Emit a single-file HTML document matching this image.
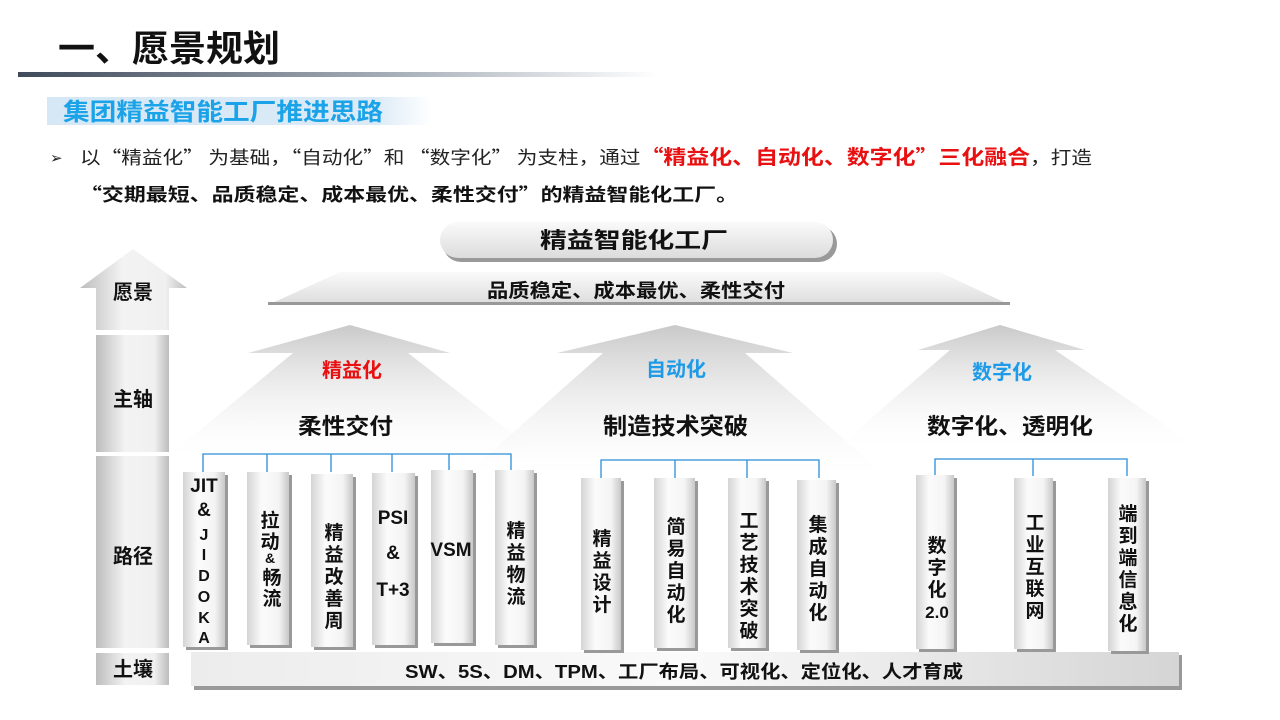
<!DOCTYPE html>
<html><head><meta charset="utf-8"><style>
html,body{margin:0;padding:0;background:#fff;}
svg{display:block;}
text{font-family:"Liberation Sans","Noto Sans CJK SC",sans-serif;}
.cj{font-family:"Noto Sans CJK SC","Liberation Sans",sans-serif;}
</style></head><body>
<svg width="1280" height="720" viewBox="0 0 1280 720" xmlns="http://www.w3.org/2000/svg">
<defs>
<linearGradient id="hl" x1="0" x2="1"><stop offset="0" stop-color="#3f4a5a"/><stop offset="0.6" stop-color="#a9b1bb"/><stop offset="1" stop-color="#fff"/></linearGradient>
<linearGradient id="sb" x1="0" x2="1"><stop offset="0" stop-color="#d6e7f5"/><stop offset="0.85" stop-color="#dceaf6"/><stop offset="1" stop-color="#fff"/></linearGradient>
<linearGradient id="pl" x1="0" x2="1"><stop offset="0" stop-color="#d4d4d4"/><stop offset="0.35" stop-color="#fbfbfb"/><stop offset="0.75" stop-color="#f4f4f4"/><stop offset="1" stop-color="#c8c8c8"/></linearGradient>
<linearGradient id="ar" x1="0" y1="0" x2="0" y2="1"><stop offset="0" stop-color="#c9c9c9"/><stop offset="1" stop-color="#ffffff" stop-opacity="0.2"/></linearGradient>
<linearGradient id="bn" x1="0" y1="0" x2="0" y2="1"><stop offset="0" stop-color="#fafafa"/><stop offset="1" stop-color="#dcdcdc"/></linearGradient>
<linearGradient id="bx" x1="0" x2="1"><stop offset="0" stop-color="#bdbdbd"/><stop offset="0.4" stop-color="#f3f3f3"/><stop offset="0.8" stop-color="#f0f0f0"/><stop offset="1" stop-color="#bcbcbc"/></linearGradient>
<linearGradient id="sl" x1="0" x2="1"><stop offset="0" stop-color="#ececec"/><stop offset="0.5" stop-color="#fafafa"/><stop offset="1" stop-color="#d5d5d5"/></linearGradient>
</defs>

<!-- header -->
<text x="58" y="61" font-size="36" font-weight="bold" fill="#111" textLength="222" lengthAdjust="spacingAndGlyphs">一、愿景规划</text>
<rect x="18" y="72" width="640" height="5" fill="url(#hl)"/>
<rect x="47" y="97" width="385" height="28" fill="url(#sb)"/>
<text x="63" y="120" font-size="24" font-weight="bold" fill="#1aa3e8" textLength="320" lengthAdjust="spacingAndGlyphs">集团精益智能工厂推进思路</text>
<text x="50" y="163" font-size="15" fill="#222">➢</text>
<text class="cj" x="80" y="164" font-size="18" fill="#222" textLength="1012" lengthAdjust="spacingAndGlyphs">以“精益化” 为基础，“自动化”和 “数字化” 为支柱，通过<tspan font-weight="bold" fill="#e81010" font-size="20">“精益化、自动化、数字化”三化融合</tspan>，打造</text>
<text class="cj" x="80" y="201" font-size="18" font-weight="bold" fill="#111" textLength="658" lengthAdjust="spacingAndGlyphs">“交期最短、品质稳定、成本最优、柔性交付”的精益智能化工厂。</text>

<!-- title pill -->
<rect x="443" y="226" width="394" height="36" rx="18" fill="#999"/>
<rect x="440" y="222" width="393" height="36" rx="18" fill="url(#bn)"/>
<text x="540" y="248" font-size="22" font-weight="bold" fill="#111" textLength="188" lengthAdjust="spacingAndGlyphs">精益智能化工厂</text>

<!-- banner -->
<polygon points="268,305 340,272 940,272 1010,305" fill="url(#bn)"/>
<rect x="268" y="302" width="742" height="3" fill="#999"/>
<text x="487" y="297" font-size="19" font-weight="bold" fill="#111" textLength="298" lengthAdjust="spacingAndGlyphs">品质稳定、成本最优、柔性交付</text>

<!-- big arrows -->
<polygon points="350,325 450,353 408,353 540,455 170,455 293,353 248,353" fill="url(#ar)"/>
<polygon points="675,325 793,353 745,353 885,475 465,475 603,353 557,353" fill="url(#ar)"/>
<polygon points="1000,325 1085,350 1055,350 1195,445 840,445 950,350 918,350" fill="url(#ar)"/>
<text x="352" y="377" font-size="20" font-weight="bold" fill="#e81010" text-anchor="middle">精益化</text>
<text x="298" y="434" font-size="22" font-weight="bold" fill="#111" textLength="95" lengthAdjust="spacingAndGlyphs">柔性交付</text>
<text x="676" y="376" font-size="20" font-weight="bold" fill="#1e9be8" text-anchor="middle">自动化</text>
<text x="603" y="434" font-size="23" font-weight="bold" fill="#111" textLength="145" lengthAdjust="spacingAndGlyphs">制造技术突破</text>
<text x="1002" y="379" font-size="20" font-weight="bold" fill="#1e9be8" text-anchor="middle">数字化</text>
<text x="927" y="434" font-size="22" font-weight="bold" fill="#111" textLength="166" lengthAdjust="spacingAndGlyphs">数字化、透明化</text>

<!-- left column -->
<polygon points="133,249 187,288 169,288 169,330 96,330 96,288 80,288" fill="url(#bx)"/>
<text x="133" y="299" font-size="20" font-weight="bold" fill="#111" text-anchor="middle">愿景</text>
<rect x="96" y="335" width="73" height="117" fill="url(#bx)"/>
<text x="133" y="406" font-size="20" font-weight="bold" fill="#111" text-anchor="middle">主轴</text>
<rect x="96" y="456" width="73" height="192" fill="url(#bx)"/>
<text x="133" y="563" font-size="20" font-weight="bold" fill="#111" text-anchor="middle">路径</text>
<rect x="96" y="653" width="73" height="32" fill="url(#bx)"/>
<text x="133" y="676" font-size="20" font-weight="bold" fill="#111" text-anchor="middle">土壤</text>

<!-- soil -->
<rect x="194" y="655" width="988" height="35" fill="#999"/>
<rect x="191" y="652" width="988" height="34" fill="url(#sl)"/>
<text x="405" y="678" font-size="18" font-weight="bold" fill="#111" textLength="558" lengthAdjust="spacingAndGlyphs">SW、5S、DM、TPM、工厂布局、可视化、定位化、人才育成</text>

<!-- brackets -->
<g stroke="#2a8fd8" stroke-width="1.3" fill="none">
<path d="M203,472 V454 H511 V472 M267,454 V472 M331,454 V472 M392,454 V472 M449,454 V472"/>
<path d="M601,478 V460 H819 V478 M675,460 V478 M747,460 V478"/>
<path d="M935,476 V459 H1127 V476 M1033,459 V476"/>
</g>

<!-- pillars -->
<g>
<rect x="186" y="475" width="42" height="175" fill="#999"/><rect x="183" y="472" width="42" height="175" fill="url(#pl)"/>
<rect x="250" y="475" width="42" height="173" fill="#999"/><rect x="247" y="472" width="42" height="173" fill="url(#pl)"/>
<rect x="314" y="477" width="42" height="173" fill="#999"/><rect x="311" y="474" width="42" height="173" fill="url(#pl)"/>
<rect x="375" y="476" width="43" height="172" fill="#999"/><rect x="372" y="473" width="43" height="172" fill="url(#pl)"/>
<rect x="434" y="473" width="42" height="173" fill="#999"/><rect x="431" y="470" width="42" height="173" fill="url(#pl)"/>
<rect x="498" y="473" width="39" height="175" fill="#999"/><rect x="495" y="470" width="39" height="175" fill="url(#pl)"/>
<rect x="584" y="481" width="40" height="172" fill="#999"/><rect x="581" y="478" width="40" height="172" fill="url(#pl)"/>
<rect x="657" y="481" width="41" height="170" fill="#999"/><rect x="654" y="478" width="41" height="170" fill="url(#pl)"/>
<rect x="731" y="481" width="38" height="170" fill="#999"/><rect x="728" y="478" width="38" height="170" fill="url(#pl)"/>
<rect x="800" y="483" width="39" height="170" fill="#999"/><rect x="797" y="480" width="39" height="170" fill="url(#pl)"/>
<rect x="919" y="478" width="38" height="174" fill="#999"/><rect x="916" y="475" width="38" height="174" fill="url(#pl)"/>
<rect x="1017" y="481" width="39" height="171" fill="#999"/><rect x="1014" y="478" width="39" height="171" fill="url(#pl)"/>
<rect x="1111" y="481" width="38" height="173" fill="#999"/><rect x="1108" y="478" width="38" height="173" fill="url(#pl)"/>
</g>

<g font-size="19" font-weight="bold" fill="#111" text-anchor="middle">
<text x="204" y="492">JIT</text>
<text x="204" y="516">&amp;</text>
<text x="204" y="540" font-size="16">J</text>
<text x="204" y="560" font-size="16">I</text>
<text x="204" y="581" font-size="16">D</text>
<text x="204" y="602" font-size="16">O</text>
<text x="204" y="623" font-size="16">K</text>
<text x="204" y="643" font-size="16">A</text>

<text x="270" y="527">拉</text><text x="270" y="548">动</text><text x="270" y="563" font-size="14">&amp;</text><text x="272" y="584">畅</text><text x="272" y="605">流</text>
<text x="334" y="539">精</text><text x="334" y="561">益</text><text x="334" y="583">改</text><text x="334" y="605">善</text><text x="334" y="627">周</text>
<text x="393" y="524">PSI</text><text x="393" y="559">&amp;</text><text x="393" y="596">T+3</text>
<text x="451" y="556">VSM</text>
<text x="516" y="537">精</text><text x="516" y="559">益</text><text x="516" y="581">物</text><text x="516" y="603">流</text>

<text x="602" y="545">精</text><text x="602" y="567">益</text><text x="602" y="589">设</text><text x="602" y="611">计</text>
<text x="676" y="533">简</text><text x="676" y="555">易</text><text x="676" y="577">自</text><text x="676" y="599">动</text><text x="676" y="621">化</text>
<text x="749" y="527">工</text><text x="749" y="549">艺</text><text x="749" y="571">技</text><text x="749" y="593">术</text><text x="749" y="615">突</text><text x="749" y="637">破</text>
<text x="818" y="531">集</text><text x="818" y="553">成</text><text x="818" y="575">自</text><text x="818" y="597">动</text><text x="818" y="619">化</text>

<text x="937" y="552">数</text><text x="937" y="574">字</text><text x="937" y="596">化</text><text x="937" y="618" font-size="17">2.0</text>
<text x="1035" y="529">工</text><text x="1035" y="551">业</text><text x="1035" y="573">互</text><text x="1035" y="595">联</text><text x="1035" y="617">网</text>
<text x="1128" y="520">端</text><text x="1128" y="542">到</text><text x="1128" y="564">端</text><text x="1128" y="586">信</text><text x="1128" y="608">息</text><text x="1128" y="630">化</text>
</g>
</svg>
</body></html>
